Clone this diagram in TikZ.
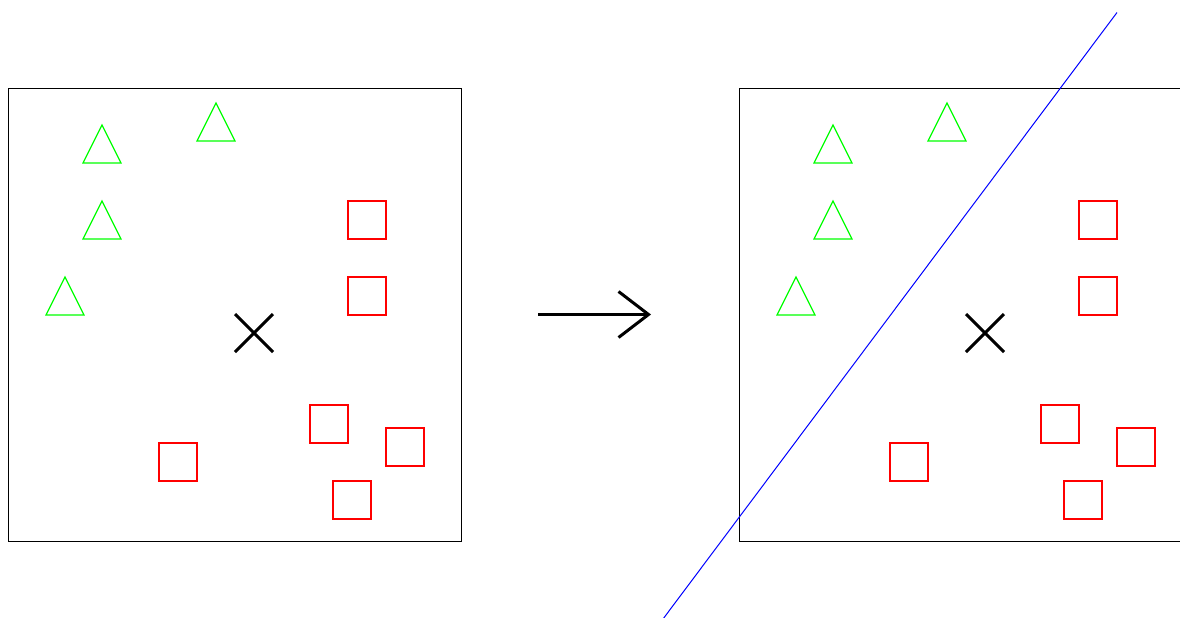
\documentclass[tikz,border=0pt]{standalone}
\usepackage{tikz}
\usetikzlibrary{arrows.meta,calc}

\definecolor{classA}{RGB}{0,255,0}
\definecolor{classB}{RGB}{255,0,0}
\definecolor{splitline}{RGB}{0,0,255}
\tikzset{
 triangle pt/.style={draw=classA,line width=0.6pt},
 square pt/.style={draw=classB,line width=0.6pt},
 query pt/.style={line width=1.5pt}
}

\begin{document}
\begin{tikzpicture}[x=0.5pt,y=-0.5pt,line width=0.5pt]
 \useasboundingbox (0,0) rectangle (1180,617);
 % the same sample set, before and after the split
 \foreach \dx in {0,731} {
  \begin{scope}[shift={(\dx,0)}]
   \draw (8,88) rectangle ++(453,453);
   \foreach \x/\y in {102/125,216/103,102/201,65/277}
    \path[triangle pt] (\x,\y)--++(19,38)--++(-38,0)--cycle;
   \foreach \x/\y in {348/201,348/277,310/405,386/428,159/443,333/481}
    \path[square pt] (\x,\y)--++(38,0)--++(0,38)--++(-38,0)--cycle;
   \coordinate (Q) at (254,333);
   \draw[query pt] ($(Q)+(-19,-19)$)--($(Q)+(19,19)$)
                   ($(Q)+(-19,19)$)--($(Q)+(19,-19)$);
  \end{scope}
 }
 % arrow between the two panels
 \coordinate (from) at (538,314.5);
 \coordinate (to) at (651,314.5);
 \draw[line width=1.5pt,-{Straight Barb[length=15pt,width=23pt]}] (from)--(to);
 % separating line
 \coordinate (P) at (1117,12.5);
 \coordinate (R) at (663,619);
 \draw[splitline] (P)--(R);
\end{tikzpicture}
\end{document}
